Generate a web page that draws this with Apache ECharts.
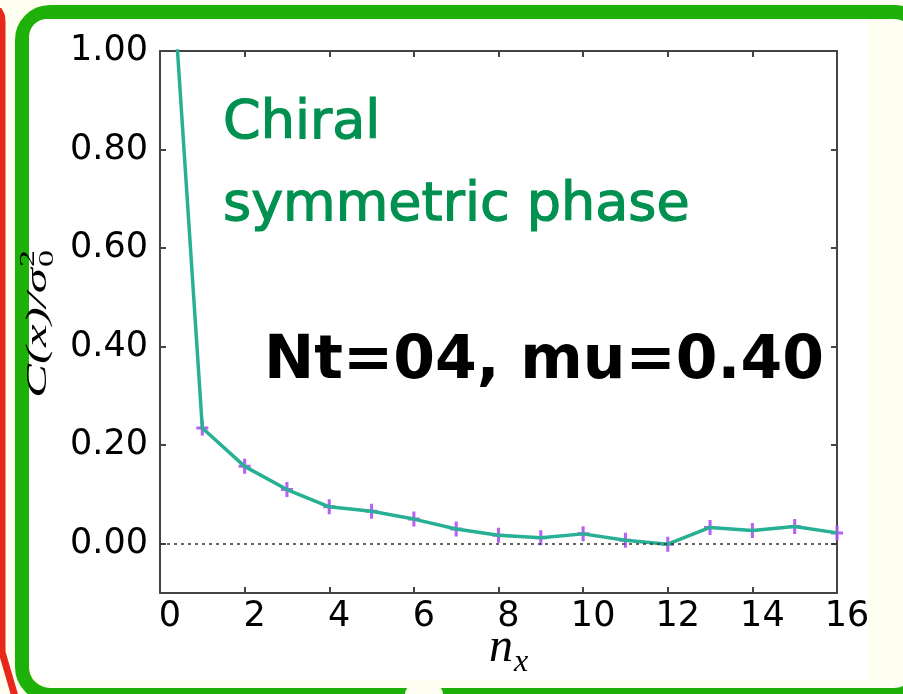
<!DOCTYPE html>
<html>
<head>
<meta charset="utf-8">
<script src="https://cdn.jsdelivr.net/npm/echarts@6/dist/echarts.min.js"></script>
<style>
  html, body { margin: 0; padding: 0; background: #fefef1; }
  #chart { width: 903px; height: 694px; }
</style>
</head>
<body>
<div id="chart"></div>
<script>
// Spatial correlation of the chiral condensate along x, normalised by sigma_0^2
const nx = [0, 1, 2, 3, 4, 5, 6, 7, 8, 9, 10, 11, 12, 13, 14, 15, 16];
const corr = [1.54, 0.235, 0.157, 0.110, 0.075, 0.066, 0.050, 0.030, 0.017,
              0.012, 0.020, 0.007, -0.001, 0.033, 0.027, 0.035, 0.022];
const xTicks = [0, 2, 4, 6, 8, 10, 12, 14, 16];
const yTicks = [0, 0.2, 0.4, 0.6, 0.8, 1.0];
const phaseLines = ['Chiral', 'symmetric phase'];
const runLabel = 'Nt=04, mu=0.40';

const points = nx.map((x, i) => [x, corr[i]]);

const chart = echarts.init(document.getElementById('chart'), null, { renderer: 'canvas' });

const axisColor = '#444444';
const tickFont = '"DejaVu Sans", sans-serif';
const mathFont = '"Liberation Serif", "DejaVu Serif", serif';
// "+" marker with short vertical error bar
const plusPath = 'path://M-1.4,-7 L1.4,-7 L1.4,-1.4 L5.5,-1.4 L5.5,1.4 L1.4,1.4 L1.4,7 L-1.4,7 L-1.4,1.4 L-5.5,1.4 L-5.5,-1.4 L-1.4,-1.4 Z';

const option = {
  backgroundColor: '#fefef1',
  animation: false,
  grid: { left: 160, right: 66, top: 51, bottom: 101, containLabel: false },
  xAxis: [
    {
      type: 'value', min: 0, max: 16, interval: 2,
      axisLine: { show: true, onZero: false, lineStyle: { color: axisColor, width: 2 } },
      axisTick: { show: true, inside: true, length: 6, lineStyle: { color: axisColor, width: 2 } },
      splitLine: { show: false },
      axisLabel: {
        color: '#000', fontFamily: tickFont, fontSize: 35, margin: 6,
        padding: [0, 0, 0, 20],
        customValues: xTicks
      }
    },
    {
      type: 'value', position: 'top', min: 0, max: 16, interval: 2,
      axisLine: { show: true, onZero: false, lineStyle: { color: axisColor, width: 2 } },
      axisTick: { show: true, inside: true, length: 6, lineStyle: { color: axisColor, width: 2 } },
      splitLine: { show: false },
      axisLabel: { show: false }
    }
  ],
  yAxis: [
    {
      type: 'value', min: -0.1, max: 1.0,
      axisLine: { show: true, onZero: false, lineStyle: { color: axisColor, width: 2 } },
      axisTick: { show: true, inside: true, length: 6, customValues: yTicks, lineStyle: { color: axisColor, width: 2 } },
      splitLine: { show: false },
      axisLabel: {
        color: '#000', fontFamily: tickFont, fontSize: 35, margin: 12,
        customValues: yTicks,
        formatter: v => v.toFixed(2)
      }
    },
    {
      type: 'value', position: 'right', min: -0.1, max: 1.0,
      axisLine: { show: true, onZero: false, lineStyle: { color: axisColor, width: 2 } },
      axisTick: { show: true, inside: true, length: 6, customValues: yTicks, lineStyle: { color: axisColor, width: 2 } },
      splitLine: { show: false },
      axisLabel: { show: false }
    }
  ],
  series: [
    {
      type: 'scatter',
      data: points,
      symbol: plusPath,
      symbolSize: [12, 15],
      itemStyle: { color: '#b050f2', opacity: 0.9 },
      z: 2,
      clip: true,
      markLine: {
        silent: true,
        symbol: 'none',
        label: { show: false },
        lineStyle: { color: '#333', width: 1.5, type: [3, 4] },
        data: [{ yAxis: 0 }]
      }
    },
    {
      type: 'line',
      data: points,
      showSymbol: false,
      symbol: 'none',
      clip: true,
      lineStyle: { color: '#27b094', width: 3.5 },
      z: 3
    }
  ],
  graphic: [
    // outer decorative frames
    {
      type: 'polyline', z: -10,
      shape: { points: [[-30, 9], [-6, 9], [-1, 11], [1.5, 16], [2, 22], [2, 652], [16, 700]] },
      style: { fill: null, stroke: '#e8281a', lineWidth: 7 }
    },
    {
      type: 'rect', z: -9,
      shape: { x: 22, y: 12, width: 900, height: 683, r: 28 },
      style: { fill: '#fefef1', stroke: '#1db10a', lineWidth: 14 }
    },
    {
      type: 'rect', z: -8,
      shape: { x: 29, y: 19, width: 839, height: 661, r: [18, 0, 0, 16] },
      style: { fill: '#ffffff' }
    },
    {
      type: 'rect', z: -7,
      shape: { x: 405, y: 686, width: 38, height: 12, r: [8, 8, 0, 0] },
      style: { fill: '#fefef1' }
    },
    // phase annotation
    {
      type: 'text', z: 50, x: 223, y: 124,
      style: {
        text: phaseLines[0], fill: '#00904f', stroke: '#00904f', lineWidth: 1.2,
        font: '54px "DejaVu Sans", sans-serif',
        textAlign: 'left', textVerticalAlign: 'middle'
      }
    },
    {
      type: 'text', z: 50, x: 223, y: 206,
      style: {
        text: phaseLines[1], fill: '#00904f', stroke: '#00904f', lineWidth: 1.2,
        font: '54px "DejaVu Sans", sans-serif',
        textAlign: 'left', textVerticalAlign: 'middle'
      }
    },
    {
      type: 'text', z: 50, x: 264, y: 362,
      style: {
        text: runLabel, fill: '#000',
        font: 'bold 60px "DejaVu Sans", sans-serif',
        textAlign: 'left', textVerticalAlign: 'middle'
      }
    },
    // y axis title: C(x)/sigma_0^2
    {
      type: 'group', z: 50, x: 53, y: 398, rotation: Math.PI / 2, scaleX: 1.7,
      children: [
        {
          type: 'text', x: 0, y: 0,
          style: { text: 'C(x)/σ', fill: '#000', font: 'italic 30px ' + mathFont,
                   textAlign: 'left', textVerticalAlign: 'bottom' }
        },
        {
          type: 'text', x: 77, y: 5,
          style: { text: '0', fill: '#000', font: '20px ' + mathFont,
                   textAlign: 'left', textVerticalAlign: 'bottom' }
        },
        {
          type: 'text', x: 77, y: -14,
          style: { text: '2', fill: '#000', font: '20px ' + mathFont,
                   textAlign: 'left', textVerticalAlign: 'bottom' }
        }
      ]
    },
    // x axis title: n_x
    {
      type: 'group', z: 50, x: 489, y: 672,
      children: [
        {
          type: 'text', x: 0, y: 0,
          style: { text: 'n', fill: '#000', font: 'italic 48px ' + mathFont,
                   textAlign: 'left', textVerticalAlign: 'bottom' }
        },
        {
          type: 'text', x: 25, y: 7,
          style: { text: 'x', fill: '#000', font: 'italic 32px ' + mathFont,
                   textAlign: 'left', textVerticalAlign: 'bottom' }
        }
      ]
    }
  ]
};

chart.setOption(option);
</script>
</body>
</html>
